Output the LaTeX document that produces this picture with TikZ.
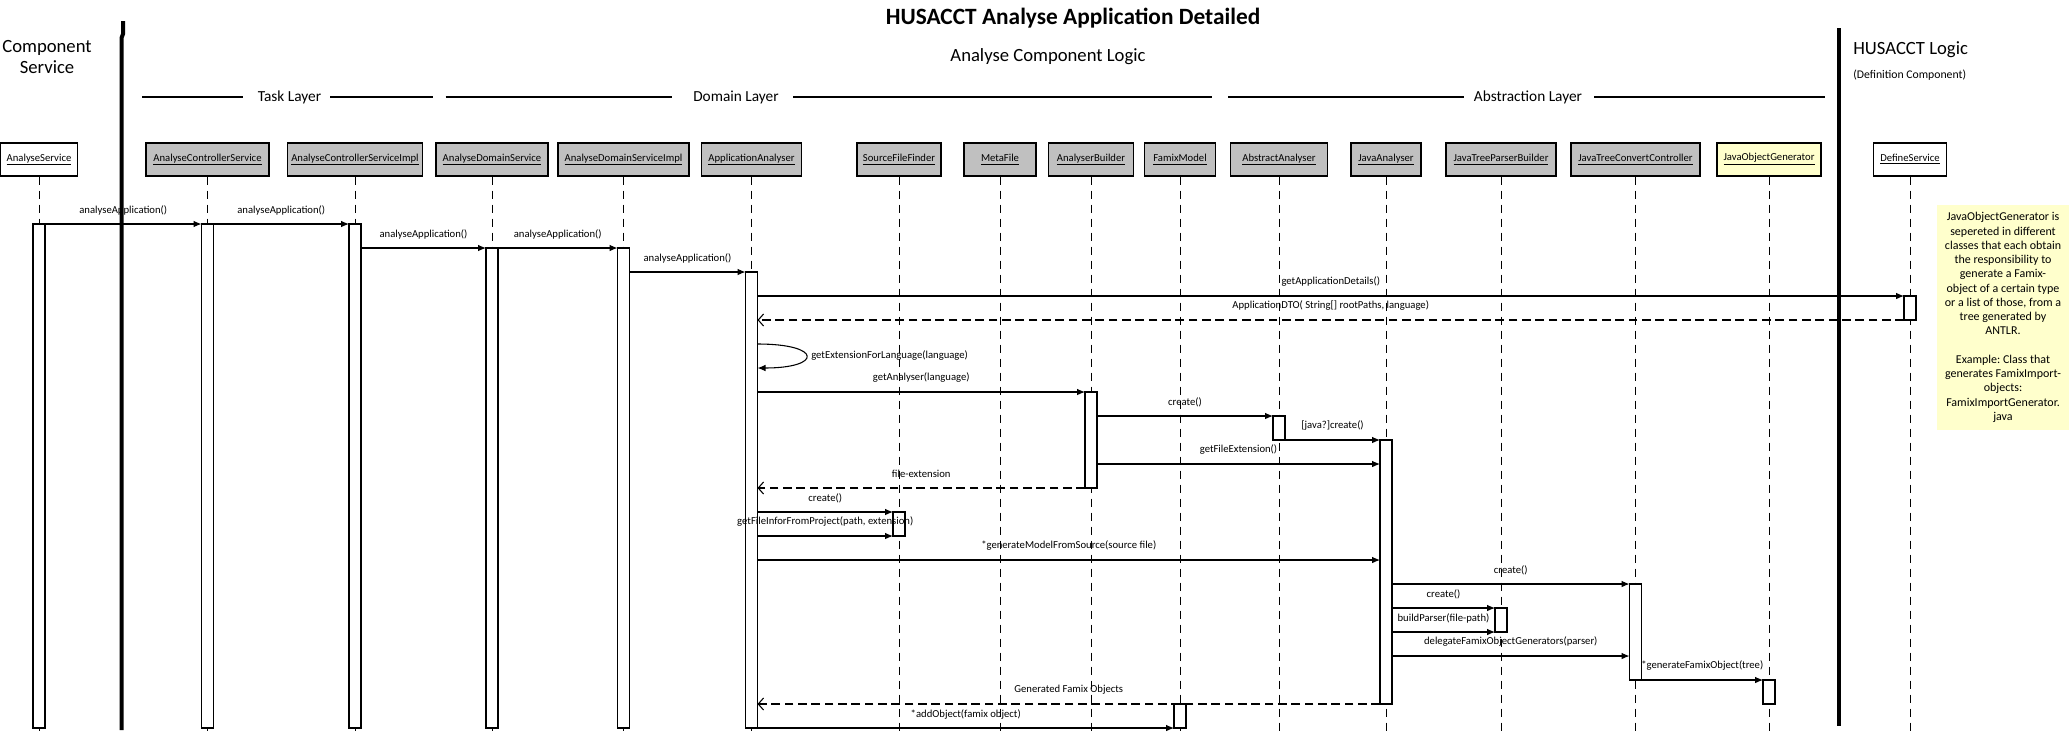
\documentclass[tikz,border=0pt]{standalone}
\usepackage{fontspec}
\setmainfont{Carlito}
\usetikzlibrary{arrows.meta,positioning}
\frenchspacing

\definecolor{headgray}{HTML}{C0C0C0}
\definecolor{noteyellow}{HTML}{FFFFCC}

\tikzset{
  obj/.style={draw, line width=0.8pt, minimum height=24.75pt, inner sep=0pt,
    font=\fontsize{8}{9.6}\selectfont},
  lifeline/.style={line width=0.6pt, dash pattern=on 6.5pt off 4pt},
  act/.style={draw, fill=white, line width=0.8pt, minimum width=9pt,
    inner sep=0pt, outer sep=0pt},
  call/.style={line width=0.8pt, -{Latex[length=6pt,width=5pt]}},
  reply/.style={line width=0.8pt, dash pattern=on 6.5pt off 3.5pt,
    -{Straight Barb[length=4pt,width=9pt]}},
  msglabel/.style={font=\fontsize{8}{9.6}\selectfont, inner sep=0pt, yshift=10.5pt},
  layer/.style={font=\fontsize{11.5}{13.8}\selectfont, inner sep=0pt},
  layerline/.style={line width=0.9pt},
  boundary/.style={line width=3pt},
}

\begin{document}
\begin{tikzpicture}[x=0.75pt, y=-0.75pt]
  \useasboundingbox (0,0) rectangle (2069,733);

  % titles
  \node[font=\bfseries\fontsize{17.5}{21}\selectfont] (title) at (1073,18) {HUSACCT Analyse Application Detailed};
  \node[font=\fontsize{14}{16.8}\selectfont] (sublogic) at (1048,57) {Analyse Component Logic};
  \node[font=\fontsize{14}{15.75}\selectfont, align=center, inner sep=0pt] (compsvc) at (47,57) {Component\\Service};
  \node[font=\fontsize{14}{16.8}\selectfont, anchor=west, inner sep=0pt] (husacct) at (1853,49.5) {HUSACCT Logic};
  \node[font=\fontsize{8.8}{10.5}\selectfont, anchor=west, inner sep=0pt] (defcomp) at (1853,75) {(Definition Component)};

  % layers
  \node[layer] (tasklayer) at (289.5,97) {Task Layer};
  \draw[layerline] (142,97) -- (243,97) (330,97) -- (433,97);
  \node[layer] (domainlayer) at (736,97) {Domain Layer};
  \draw[layerline] (445.5,97) -- (672,97) (793,97) -- (1212,97);
  \node[layer] (abstractionlayer) at (1528,97) {Abstraction Layer};
  \draw[layerline] (1228,97) -- (1464,97) (1594,97) -- (1825,97);

  % objects and lifelines
  \foreach \n/\x/\w/\c/\txt in {
      as/39/77/white/AnalyseService,
      acs/207.5/123/headgray/AnalyseControllerService,
      acsi/355/135/headgray/AnalyseControllerServiceImpl,
      ads/492/112/headgray/AnalyseDomainService,
      adsi/623.5/131/headgray/AnalyseDomainServiceImpl,
      aa/751.5/100/headgray/ApplicationAnalyser,
      sff/899/84/headgray/SourceFileFinder,
      mf/1000/72/headgray/MetaFile,
      ab/1091/85/headgray/AnalyserBuilder,
      fm/1180/71/headgray/FamixModel,
      abs/1279/97/headgray/AbstractAnalyser,
      ja/1386/70/headgray/JavaAnalyser,
      jtpb/1501/110/headgray/JavaTreeParserBuilder,
      jtcc/1635.5/129/headgray/JavaTreeConvertController,
      jog/1769/104/noteyellow/JavaObjectGenerator,
      ds/1910/73/white/DefineService}
  {
    \node[obj, fill=\c, minimum width={\w*0.75pt}] (\n) at (\x,159.5) {\underline{\txt}};
    \draw[lifeline] (\n.south) -- (\n.south |- 0,733);
  }

  % activation bars
  \foreach \n/\ya/\yb in {
      as/224/728, acs/224/728, acsi/224/728, ads/248/728, adsi/248/728,
      aa/272/728, ds/296/320, ab/392/488, abs/416/440, ja/440/704,
      sff/512/536, jtcc/584/680, jtpb/608/632, jog/680/704, fm/704/728}
    \node[act, minimum height={(\yb-\ya)*0.75pt}] (\n-act) at (\n.south |- 0,{(\ya+\yb)/2}) {};

  % calls
  \foreach \src/\dst/\y/\txt in {
      as/acs/224/analyseApplication(),
      acs/acsi/224/analyseApplication(),
      acsi/ads/248/analyseApplication(),
      ads/adsi/248/analyseApplication(),
      adsi/aa/272/analyseApplication(),
      aa/ds/296/getApplicationDetails(),
      aa/ab/392/getAnalyser(language),
      ab/abs/416/create(),
      abs/ja/440/[java?]create(),
      ab/ja/464/getFileExtension(),
      aa/sff/512/create(),
      aa/sff/536/{getFileInforFromProject(path, extension)},
      aa/ja/560/*generateModelFromSource(source file),
      ja/jtcc/584/create(),
      ja/jtpb/608/create(),
      ja/jtpb/632/buildParser(file-path),
      ja/jtcc/656/delegateFamixObjectGenerators(parser),
      jtcc/jog/680/*generateFamixObject(tree),
      aa/fm/728/*addObject(famix object)}
    \draw[call] (\src-act.east |- 0,\y) -- (\dst-act.west |- 0,\y)
      node[midway, msglabel] {\txt};

  % replies
  \foreach \src/\dst/\y/\txt in {
      ds/aa/320/{ApplicationDTO( String[] rootPaths, language)},
      ab/aa/488/file-extension,
      ja/aa/704/Generated Famix Objects}
    \draw[reply] (\src-act.west |- 0,\y) -- (\dst-act.east |- 0,\y)
      node[midway, msglabel] {\txt};

  % self call
  \draw[call] (aa-act.east |- 0,344) .. controls +(65,0) and +(65,0) .. (aa-act.east |- 0,368);
  \node[font=\fontsize{8}{9.6}\selectfont, anchor=west, inner sep=0pt] (extlbl) at (811,356) {getExtensionForLanguage(language)};

  % component boundaries
  \draw[boundary] (123,21) -- (123,34) -- (121.5,38) -- (121.5,730);
  \draw[boundary] (1839,28) -- (1839,726);

  % note
  \node[fill=noteyellow, minimum width=99pt, minimum height=168.75pt, inner sep=0pt,
    align=center, font=\fontsize{9}{10.7}\selectfont] (note) at (2003,317.5)
    {JavaObjectGenerator is\\ sepereted in different\\ classes that each obtain\\
     the responsibility to\\ generate a Famix-\\ object of a certain type\\
     or a list of those, from a\\ tree generated by\\ ANTLR.\\[10.7pt]
     Example: Class that\\ generates FamixImport-\\ objects:\\
     FamixImportGenerator.\\ java};
\end{tikzpicture}
\end{document}
